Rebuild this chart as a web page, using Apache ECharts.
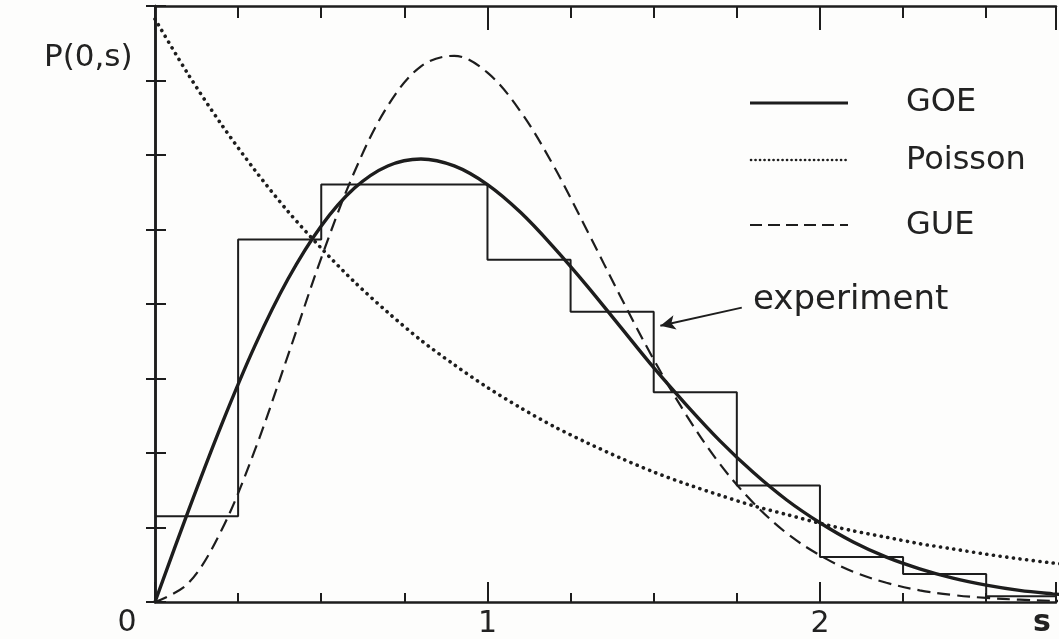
<!DOCTYPE html>
<html>
<head>
<meta charset="utf-8">
<title>Level spacing distribution</title>
<script src="https://cdn.jsdelivr.net/npm/echarts@6/dist/echarts.min.js"></script>
<style>
  html, body { margin: 0; padding: 0; background: #fdfdfc; }
  #chart { width: 1059px; height: 639px; }
</style>
</head>
<body>
<div id="chart"></div>
<script>
// Nearest-neighbour spacing s (in units of the mean spacing)
const sValues = [0, 0.1, 0.2, 0.3, 0.4, 0.5, 0.6, 0.7, 0.8, 0.9, 1.0, 1.1, 1.2, 1.3,
  1.4, 1.5, 1.6, 1.7, 1.8, 1.9, 2.0, 2.1, 2.2, 2.3, 2.4, 2.5, 2.6, 2.7, 2.8];

// GOE (Wigner) curve
const goeValues = [0, 0.156, 0.304, 0.439, 0.554, 0.645, 0.710, 0.748, 0.760, 0.748,
  0.716, 0.668, 0.608, 0.542, 0.472, 0.402, 0.337, 0.276, 0.222, 0.175,
  0.136, 0.103, 0.077, 0.057, 0.041, 0.029, 0.020, 0.014, 0.009];

// Poisson curve
const poissonValues = [1.0, 0.905, 0.819, 0.741, 0.670, 0.607, 0.549, 0.497, 0.449, 0.407,
  0.368, 0.333, 0.301, 0.273, 0.247, 0.223, 0.202, 0.183, 0.165, 0.150,
  0.135, 0.122, 0.111, 0.100, 0.091, 0.082, 0.074, 0.067, 0.061];

// GUE curve
const gueValues = [0, 0.032, 0.123, 0.260, 0.423, 0.590, 0.738, 0.851, 0.919, 0.937,
  0.908, 0.841, 0.747, 0.637, 0.524, 0.416, 0.319, 0.236, 0.170, 0.118,
  0.080, 0.052, 0.033, 0.020, 0.012, 0.007, 0.004, 0.002, 0.001];

// Measured histogram: left bin edges and heights (bin width 0.25)
const binEdges = [0, 0.25, 0.5, 0.75, 1.0, 1.25, 1.5, 1.75, 2.0, 2.25, 2.5, 2.75];
const binHeights = [0.147, 0.622, 0.716, 0.716, 0.587, 0.498, 0.360, 0.200, 0.077, 0.048, 0.010, 0.010];

// Axis ticks
const xMajorLabels = ['0', '1', '2'];
const xAxisName = 's';
const yAxisName = 'P(0,s)';
const legendNames = ['GOE', 'Poisson', 'GUE'];
const annotationText = 'experiment';

const INK = '#1d1d1d';
const FONT = '"DejaVu Sans", sans-serif';

const X_MAX = 2.71;
const Y_TICK = 0.1278;
const Y_MAX = Y_TICK * 8;

const pairs = (xs, ys) => xs.map((x, i) => [x, ys[i]]);

const chart = echarts.init(document.getElementById('chart'), null, { renderer: 'canvas' });

const baseX = {
  type: 'value', min: 0, max: X_MAX,
  splitLine: { show: false },
  axisLabel: { show: false }
};

const option = {
  backgroundColor: '#fdfdfc',
  animation: false,
  grid: { left: 155, top: 6, width: 906, height: 597 },
  xAxis: [
    Object.assign({}, baseX, {
      position: 'bottom', interval: 0.25,
      axisLine: { show: true, lineStyle: { color: INK, width: 2.5 } },
      axisTick: { show: true, inside: true, length: 9, lineStyle: { color: INK, width: 2 } }
    }),
    Object.assign({}, baseX, {
      position: 'bottom', interval: 1,
      axisLine: { show: false },
      axisTick: { show: true, inside: true, length: 20, lineStyle: { color: INK, width: 2 } },
      axisLabel: {
        show: true, margin: 7, color: '#222', fontSize: 30, fontFamily: FONT,
        formatter: v => (v > 0 && v < 3 ? xMajorLabels[Math.round(v)] : '')
      }
    }),
    Object.assign({}, baseX, {
      position: 'top', interval: 0.25,
      axisLine: { show: true, lineStyle: { color: INK, width: 2.5 } },
      axisTick: { show: true, inside: true, length: 12, lineStyle: { color: INK, width: 2 } }
    }),
    Object.assign({}, baseX, {
      position: 'top', interval: 1,
      axisLine: { show: false },
      axisTick: { show: true, inside: true, length: 24, lineStyle: { color: INK, width: 2 } }
    })
  ],
  yAxis: [
    {
      type: 'value', position: 'left', min: 0, max: Y_MAX, interval: Y_TICK,
      splitLine: { show: false }, axisLabel: { show: false },
      axisLine: { show: true, lineStyle: { color: INK, width: 2.5 } },
      axisTick: { show: true, inside: true, length: 11, lineStyle: { color: INK, width: 2 } }
    },
    {
      type: 'value', position: 'right', min: 0, max: Y_MAX, interval: Y_TICK,
      splitLine: { show: false }, axisLabel: { show: false },
      axisLine: { show: true, lineStyle: { color: INK, width: 2.5 } },
      axisTick: { show: true, inside: true, length: 9, lineStyle: { color: INK, width: 2 } }
    }
  ],
  series: [
    {
      name: 'experiment', type: 'line', step: 'end',
      data: pairs(binEdges, binHeights),
      showSymbol: false, symbol: 'none',
      lineStyle: { color: INK, width: 2 },
      z: 2,
      markLine: {
        silent: true,
        symbol: ['none', 'arrow'],
        symbolSize: [11, 15],
        label: { show: false },
        lineStyle: { color: INK, width: 2, type: 'solid' },
        data: [[{ coord: [1.765, 0.505] }, { coord: [1.52, 0.474] }]]
      }
    },
    {
      name: legendNames[1], type: 'line', smooth: 0.3,
      data: pairs(sValues, poissonValues),
      showSymbol: false, symbol: 'none',
      lineStyle: { color: INK, width: 3.6, type: [0.1, 6.6], cap: 'round' },
      z: 3
    },
    {
      name: legendNames[2], type: 'line', smooth: 0.35,
      data: pairs(sValues, gueValues),
      showSymbol: false, symbol: 'none',
      lineStyle: { color: INK, width: 2.2, type: [13, 7] },
      z: 3
    },
    {
      name: legendNames[0], type: 'line', smooth: 0.35,
      data: pairs(sValues, goeValues),
      showSymbol: false, symbol: 'none',
      lineStyle: { color: INK, width: 3.4 },
      z: 4
    }
  ],
  graphic: [
    // axis name texts
    { type: 'text', left: 44, top: 42,
      style: { text: yAxisName, font: '31px ' + FONT, fill: '#222' } },
    { type: 'text', x: 127, y: 623,
      style: { text: xMajorLabels[0], font: '30px ' + FONT, fill: '#222', align: 'center', verticalAlign: 'middle' } },
    { type: 'text', x: 1042, y: 623,
      style: { text: xAxisName, font: '600 30px ' + FONT, fill: '#222', align: 'center', verticalAlign: 'middle' } },
    // key
    { type: 'line', shape: { x1: 750, y1: 103, x2: 848, y2: 103 },
      style: { stroke: INK, lineWidth: 3 } },
    { type: 'line', shape: { x1: 751, y1: 160, x2: 848, y2: 160 },
      style: { stroke: INK, lineWidth: 2.6, lineDash: [0.1, 4.4], lineCap: 'round' } },
    { type: 'line', shape: { x1: 750, y1: 225, x2: 848, y2: 225 },
      style: { stroke: INK, lineWidth: 2.2, lineDash: [12, 6] } },
    { type: 'text', x: 906, y: 103,
      style: { text: legendNames[0], font: '32px ' + FONT, fill: '#222', verticalAlign: 'middle' } },
    { type: 'text', x: 906, y: 161,
      style: { text: legendNames[1], font: '32px ' + FONT, fill: '#222', verticalAlign: 'middle' } },
    { type: 'text', x: 906, y: 226,
      style: { text: legendNames[2], font: '32px ' + FONT, fill: '#222', verticalAlign: 'middle' } },
    { type: 'text', x: 753, y: 300,
      style: { text: annotationText, font: '34px ' + FONT, fill: '#222', verticalAlign: 'middle' } }
  ]
};

chart.setOption(option);
</script>
</body>
</html>
